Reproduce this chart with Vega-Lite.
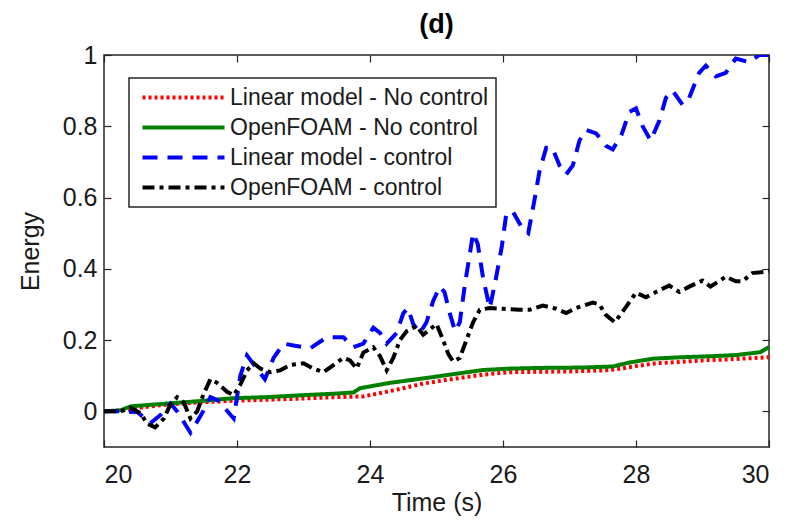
{
  "$schema": "https://vega.github.io/schema/vega-lite/v6.json",
  "width": 665,
  "height": 392,
  "autosize": "none",
  "padding": {"left": 104, "top": 55, "right": 23, "bottom": 73},
  "background": "white",
  "title": {"text": "(d)", "fontSize": 27, "fontWeight": "bold", "font": "Liberation Sans", "color": "#000000", "anchor": "middle", "baseline": "alphabetic", "offset": -17},
  "datasets": {
    "curves": [
      {"s": "Linear model - No control", "t": 20.0, "e": 0},
      {"s": "Linear model - No control", "t": 20.3, "e": 0.003},
      {"s": "Linear model - No control", "t": 20.6, "e": 0.012},
      {"s": "Linear model - No control", "t": 21.0, "e": 0.02},
      {"s": "Linear model - No control", "t": 21.5, "e": 0.026},
      {"s": "Linear model - No control", "t": 22.0, "e": 0.03},
      {"s": "Linear model - No control", "t": 22.5, "e": 0.033},
      {"s": "Linear model - No control", "t": 23.0, "e": 0.036},
      {"s": "Linear model - No control", "t": 23.5, "e": 0.04},
      {"s": "Linear model - No control", "t": 23.9, "e": 0.042},
      {"s": "Linear model - No control", "t": 24.2, "e": 0.053},
      {"s": "Linear model - No control", "t": 24.5, "e": 0.065},
      {"s": "Linear model - No control", "t": 24.8, "e": 0.078},
      {"s": "Linear model - No control", "t": 25.1, "e": 0.087},
      {"s": "Linear model - No control", "t": 25.4, "e": 0.095},
      {"s": "Linear model - No control", "t": 25.7, "e": 0.103},
      {"s": "Linear model - No control", "t": 26.1, "e": 0.11},
      {"s": "Linear model - No control", "t": 26.5, "e": 0.111},
      {"s": "Linear model - No control", "t": 27.0, "e": 0.112},
      {"s": "Linear model - No control", "t": 27.5, "e": 0.115},
      {"s": "Linear model - No control", "t": 27.7, "e": 0.118},
      {"s": "Linear model - No control", "t": 28.0, "e": 0.127},
      {"s": "Linear model - No control", "t": 28.3, "e": 0.135},
      {"s": "Linear model - No control", "t": 28.6, "e": 0.138},
      {"s": "Linear model - No control", "t": 29.0, "e": 0.143},
      {"s": "Linear model - No control", "t": 29.4, "e": 0.146},
      {"s": "Linear model - No control", "t": 29.7, "e": 0.149},
      {"s": "Linear model - No control", "t": 30.0, "e": 0.152},

      {"s": "OpenFOAM - No control", "t": 20.0, "e": 0},
      {"s": "OpenFOAM - No control", "t": 20.25, "e": 0.003},
      {"s": "OpenFOAM - No control", "t": 20.4, "e": 0.014},
      {"s": "OpenFOAM - No control", "t": 20.95, "e": 0.022},
      {"s": "OpenFOAM - No control", "t": 21.45, "e": 0.029},
      {"s": "OpenFOAM - No control", "t": 21.95, "e": 0.037},
      {"s": "OpenFOAM - No control", "t": 22.45, "e": 0.04},
      {"s": "OpenFOAM - No control", "t": 22.95, "e": 0.045},
      {"s": "OpenFOAM - No control", "t": 23.5, "e": 0.05},
      {"s": "OpenFOAM - No control", "t": 23.75, "e": 0.053},
      {"s": "OpenFOAM - No control", "t": 23.85, "e": 0.065},
      {"s": "OpenFOAM - No control", "t": 24.3, "e": 0.08},
      {"s": "OpenFOAM - No control", "t": 24.9, "e": 0.095},
      {"s": "OpenFOAM - No control", "t": 25.35, "e": 0.107},
      {"s": "OpenFOAM - No control", "t": 25.7, "e": 0.116},
      {"s": "OpenFOAM - No control", "t": 26.1, "e": 0.12},
      {"s": "OpenFOAM - No control", "t": 26.6, "e": 0.122},
      {"s": "OpenFOAM - No control", "t": 27.2, "e": 0.123},
      {"s": "OpenFOAM - No control", "t": 27.65, "e": 0.126},
      {"s": "OpenFOAM - No control", "t": 27.9, "e": 0.137},
      {"s": "OpenFOAM - No control", "t": 28.26, "e": 0.148},
      {"s": "OpenFOAM - No control", "t": 28.7, "e": 0.152},
      {"s": "OpenFOAM - No control", "t": 29.16, "e": 0.155},
      {"s": "OpenFOAM - No control", "t": 29.5, "e": 0.158},
      {"s": "OpenFOAM - No control", "t": 29.87, "e": 0.166},
      {"s": "OpenFOAM - No control", "t": 30.0, "e": 0.18},

      {"s": "Linear model - control", "t": 20.0, "e": 0},
      {"s": "Linear model - control", "t": 20.3, "e": 0},
      {"s": "Linear model - control", "t": 20.5, "e": -0.002},
      {"s": "Linear model - control", "t": 20.7, "e": -0.033},
      {"s": "Linear model - control", "t": 20.85, "e": -0.01},
      {"s": "Linear model - control", "t": 21.0, "e": 0.022},
      {"s": "Linear model - control", "t": 21.1, "e": 0.0},
      {"s": "Linear model - control", "t": 21.3, "e": -0.06},
      {"s": "Linear model - control", "t": 21.47, "e": -0.007},
      {"s": "Linear model - control", "t": 21.6, "e": 0.04},
      {"s": "Linear model - control", "t": 21.72, "e": 0.03},
      {"s": "Linear model - control", "t": 21.95, "e": -0.02},
      {"s": "Linear model - control", "t": 22.05, "e": 0.1},
      {"s": "Linear model - control", "t": 22.15, "e": 0.157},
      {"s": "Linear model - control", "t": 22.3, "e": 0.12},
      {"s": "Linear model - control", "t": 22.42, "e": 0.09},
      {"s": "Linear model - control", "t": 22.55, "e": 0.15},
      {"s": "Linear model - control", "t": 22.7, "e": 0.19},
      {"s": "Linear model - control", "t": 22.85, "e": 0.185},
      {"s": "Linear model - control", "t": 23.1, "e": 0.177},
      {"s": "Linear model - control", "t": 23.35, "e": 0.208},
      {"s": "Linear model - control", "t": 23.6, "e": 0.208},
      {"s": "Linear model - control", "t": 23.75, "e": 0.18},
      {"s": "Linear model - control", "t": 23.9, "e": 0.19},
      {"s": "Linear model - control", "t": 24.05, "e": 0.235},
      {"s": "Linear model - control", "t": 24.15, "e": 0.22},
      {"s": "Linear model - control", "t": 24.25, "e": 0.19},
      {"s": "Linear model - control", "t": 24.4, "e": 0.22},
      {"s": "Linear model - control", "t": 24.5, "e": 0.275},
      {"s": "Linear model - control", "t": 24.57, "e": 0.29},
      {"s": "Linear model - control", "t": 24.65, "e": 0.245},
      {"s": "Linear model - control", "t": 24.75, "e": 0.22},
      {"s": "Linear model - control", "t": 24.85, "e": 0.25},
      {"s": "Linear model - control", "t": 24.95, "e": 0.31},
      {"s": "Linear model - control", "t": 25.05, "e": 0.35},
      {"s": "Linear model - control", "t": 25.12, "e": 0.335},
      {"s": "Linear model - control", "t": 25.2, "e": 0.275},
      {"s": "Linear model - control", "t": 25.28, "e": 0.225},
      {"s": "Linear model - control", "t": 25.35, "e": 0.25},
      {"s": "Linear model - control", "t": 25.43, "e": 0.36},
      {"s": "Linear model - control", "t": 25.5, "e": 0.44},
      {"s": "Linear model - control", "t": 25.55, "e": 0.5},
      {"s": "Linear model - control", "t": 25.62, "e": 0.47},
      {"s": "Linear model - control", "t": 25.7, "e": 0.375},
      {"s": "Linear model - control", "t": 25.8, "e": 0.29},
      {"s": "Linear model - control", "t": 25.88, "e": 0.36},
      {"s": "Linear model - control", "t": 25.98, "e": 0.46},
      {"s": "Linear model - control", "t": 26.05, "e": 0.555},
      {"s": "Linear model - control", "t": 26.15, "e": 0.56},
      {"s": "Linear model - control", "t": 26.3, "e": 0.51},
      {"s": "Linear model - control", "t": 26.38, "e": 0.5},
      {"s": "Linear model - control", "t": 26.47, "e": 0.59},
      {"s": "Linear model - control", "t": 26.55, "e": 0.675},
      {"s": "Linear model - control", "t": 26.65, "e": 0.74},
      {"s": "Linear model - control", "t": 26.74, "e": 0.74},
      {"s": "Linear model - control", "t": 26.85, "e": 0.69},
      {"s": "Linear model - control", "t": 26.95, "e": 0.665},
      {"s": "Linear model - control", "t": 27.05, "e": 0.69},
      {"s": "Linear model - control", "t": 27.15, "e": 0.76},
      {"s": "Linear model - control", "t": 27.25, "e": 0.79},
      {"s": "Linear model - control", "t": 27.4, "e": 0.78},
      {"s": "Linear model - control", "t": 27.55, "e": 0.745},
      {"s": "Linear model - control", "t": 27.65, "e": 0.735},
      {"s": "Linear model - control", "t": 27.78, "e": 0.775},
      {"s": "Linear model - control", "t": 27.9, "e": 0.84},
      {"s": "Linear model - control", "t": 28.0, "e": 0.85},
      {"s": "Linear model - control", "t": 28.1, "e": 0.8},
      {"s": "Linear model - control", "t": 28.22, "e": 0.76},
      {"s": "Linear model - control", "t": 28.35, "e": 0.815},
      {"s": "Linear model - control", "t": 28.45, "e": 0.88},
      {"s": "Linear model - control", "t": 28.55, "e": 0.9},
      {"s": "Linear model - control", "t": 28.7, "e": 0.86},
      {"s": "Linear model - control", "t": 28.8, "e": 0.88},
      {"s": "Linear model - control", "t": 28.95, "e": 0.95},
      {"s": "Linear model - control", "t": 29.05, "e": 0.97},
      {"s": "Linear model - control", "t": 29.2, "e": 0.94},
      {"s": "Linear model - control", "t": 29.35, "e": 0.95},
      {"s": "Linear model - control", "t": 29.5, "e": 0.99},
      {"s": "Linear model - control", "t": 29.7, "e": 0.98},
      {"s": "Linear model - control", "t": 29.85, "e": 1.0},
      {"s": "Linear model - control", "t": 30.0, "e": 1.0},

      {"s": "OpenFOAM - control", "t": 20.0, "e": 0},
      {"s": "OpenFOAM - control", "t": 20.25, "e": 0.0},
      {"s": "OpenFOAM - control", "t": 20.4, "e": 0.01},
      {"s": "OpenFOAM - control", "t": 20.55, "e": -0.005},
      {"s": "OpenFOAM - control", "t": 20.65, "e": -0.035},
      {"s": "OpenFOAM - control", "t": 20.77, "e": -0.045},
      {"s": "OpenFOAM - control", "t": 20.9, "e": -0.02},
      {"s": "OpenFOAM - control", "t": 21.0, "e": 0.02},
      {"s": "OpenFOAM - control", "t": 21.1, "e": 0.04},
      {"s": "OpenFOAM - control", "t": 21.2, "e": 0.025},
      {"s": "OpenFOAM - control", "t": 21.3, "e": -0.02},
      {"s": "OpenFOAM - control", "t": 21.4, "e": 0.0},
      {"s": "OpenFOAM - control", "t": 21.5, "e": 0.05},
      {"s": "OpenFOAM - control", "t": 21.6, "e": 0.09},
      {"s": "OpenFOAM - control", "t": 21.7, "e": 0.08},
      {"s": "OpenFOAM - control", "t": 21.85, "e": 0.055},
      {"s": "OpenFOAM - control", "t": 21.95, "e": 0.045},
      {"s": "OpenFOAM - control", "t": 22.05, "e": 0.075},
      {"s": "OpenFOAM - control", "t": 22.15, "e": 0.115},
      {"s": "OpenFOAM - control", "t": 22.25, "e": 0.135},
      {"s": "OpenFOAM - control", "t": 22.35, "e": 0.12},
      {"s": "OpenFOAM - control", "t": 22.5, "e": 0.11},
      {"s": "OpenFOAM - control", "t": 22.65, "e": 0.115},
      {"s": "OpenFOAM - control", "t": 22.8, "e": 0.13},
      {"s": "OpenFOAM - control", "t": 23.0, "e": 0.135},
      {"s": "OpenFOAM - control", "t": 23.15, "e": 0.12},
      {"s": "OpenFOAM - control", "t": 23.3, "e": 0.11},
      {"s": "OpenFOAM - control", "t": 23.45, "e": 0.13},
      {"s": "OpenFOAM - control", "t": 23.6, "e": 0.15},
      {"s": "OpenFOAM - control", "t": 23.7, "e": 0.143},
      {"s": "OpenFOAM - control", "t": 23.8, "e": 0.12},
      {"s": "OpenFOAM - control", "t": 23.9, "e": 0.165},
      {"s": "OpenFOAM - control", "t": 24.05, "e": 0.18},
      {"s": "OpenFOAM - control", "t": 24.15, "e": 0.155},
      {"s": "OpenFOAM - control", "t": 24.25, "e": 0.115},
      {"s": "OpenFOAM - control", "t": 24.35, "e": 0.15},
      {"s": "OpenFOAM - control", "t": 24.45, "e": 0.2},
      {"s": "OpenFOAM - control", "t": 24.55, "e": 0.225},
      {"s": "OpenFOAM - control", "t": 24.7, "e": 0.24},
      {"s": "OpenFOAM - control", "t": 24.8, "e": 0.215},
      {"s": "OpenFOAM - control", "t": 24.9, "e": 0.23},
      {"s": "OpenFOAM - control", "t": 25.0, "e": 0.245},
      {"s": "OpenFOAM - control", "t": 25.1, "e": 0.2},
      {"s": "OpenFOAM - control", "t": 25.18, "e": 0.16},
      {"s": "OpenFOAM - control", "t": 25.25, "e": 0.14},
      {"s": "OpenFOAM - control", "t": 25.35, "e": 0.15},
      {"s": "OpenFOAM - control", "t": 25.45, "e": 0.2},
      {"s": "OpenFOAM - control", "t": 25.55, "e": 0.25},
      {"s": "OpenFOAM - control", "t": 25.65, "e": 0.285},
      {"s": "OpenFOAM - control", "t": 25.8, "e": 0.29},
      {"s": "OpenFOAM - control", "t": 26.0, "e": 0.288},
      {"s": "OpenFOAM - control", "t": 26.25, "e": 0.285},
      {"s": "OpenFOAM - control", "t": 26.4, "e": 0.285},
      {"s": "OpenFOAM - control", "t": 26.6, "e": 0.297},
      {"s": "OpenFOAM - control", "t": 26.8, "e": 0.288},
      {"s": "OpenFOAM - control", "t": 26.95, "e": 0.276},
      {"s": "OpenFOAM - control", "t": 27.1, "e": 0.29},
      {"s": "OpenFOAM - control", "t": 27.35, "e": 0.305},
      {"s": "OpenFOAM - control", "t": 27.45, "e": 0.3},
      {"s": "OpenFOAM - control", "t": 27.55, "e": 0.27},
      {"s": "OpenFOAM - control", "t": 27.68, "e": 0.25},
      {"s": "OpenFOAM - control", "t": 27.8, "e": 0.28},
      {"s": "OpenFOAM - control", "t": 28.0, "e": 0.333},
      {"s": "OpenFOAM - control", "t": 28.15, "e": 0.32},
      {"s": "OpenFOAM - control", "t": 28.3, "e": 0.335},
      {"s": "OpenFOAM - control", "t": 28.5, "e": 0.353},
      {"s": "OpenFOAM - control", "t": 28.65, "e": 0.335},
      {"s": "OpenFOAM - control", "t": 28.8, "e": 0.35},
      {"s": "OpenFOAM - control", "t": 29.0, "e": 0.367},
      {"s": "OpenFOAM - control", "t": 29.12, "e": 0.35},
      {"s": "OpenFOAM - control", "t": 29.35, "e": 0.378},
      {"s": "OpenFOAM - control", "t": 29.5, "e": 0.365},
      {"s": "OpenFOAM - control", "t": 29.6, "e": 0.365},
      {"s": "OpenFOAM - control", "t": 29.75, "e": 0.388},
      {"s": "OpenFOAM - control", "t": 30.0, "e": 0.393}
    ]
  },
  "data": {"name": "curves"},
  "layer": [
    {
      "mark": {"type": "line", "strokeWidth": 4, "clip": true},
      "encoding": {
        "x": {
          "field": "t", "type": "quantitative",
          "scale": {"domain": [20, 30], "nice": false, "zero": false},
          "axis": {"orient": "bottom", "values": [20, 22, 24, 26, 28, 30], "title": "Time (s)", "tickSize": -7, "labelPadding": 22, "titlePadding": 3}
        },
        "y": {
          "field": "e", "type": "quantitative",
          "scale": {"domain": [-0.1, 1], "nice": false, "zero": false},
          "axis": {"orient": "left", "values": [0, 0.2, 0.4, 0.6, 0.8, 1], "format": "~g", "title": "Energy", "tickSize": -7, "labelPadding": 14, "titlePadding": 19}
        },
        "color": {
          "field": "s", "type": "nominal",
          "scale": {"domain": ["Linear model - No control", "OpenFOAM - No control", "Linear model - control", "OpenFOAM - control"], "range": ["#ff0000", "#008000", "#0000ff", "#000000"]},
          "legend": {"title": null, "labelExpr": "datum.label + '\u2003\u2003'"}
        },
        "strokeDash": {
          "field": "s", "type": "nominal",
          "scale": {"domain": ["Linear model - No control", "OpenFOAM - No control", "Linear model - control", "OpenFOAM - control"], "range": [[3, 3], [1, 0], [15, 10], [12, 5, 4, 5]]},
          "legend": {"title": null, "labelExpr": "datum.label + '\u2003\u2003'"}
        }
      }
    },
    {
      "mark": {"type": "line", "opacity": 0},
      "encoding": {
        "x": {"field": "t", "type": "quantitative", "axis": {"orient": "top", "values": [20, 22, 24, 26, 28, 30], "labels": false, "title": null, "tickSize": -7}},
        "y": {"field": "e", "type": "quantitative", "axis": {"orient": "right", "values": [0, 0.2, 0.4, 0.6, 0.8, 1], "labels": false, "title": null, "tickSize": -7}}
      }
    }
  ],
  "resolve": {"axis": {"x": "independent", "y": "independent"}},
  "config": {
    "view": {"stroke": "#262626", "strokeWidth": 1.5},
    "axis": {
      "grid": false,
      "domain": false,
      "tickColor": "#262626",
      "tickWidth": 1.2,
      "labelFont": "Liberation Sans",
      "labelFontSize": 25,
      "labelColor": "#1a1a1a",
      "titleFont": "Liberation Sans",
      "titleFontSize": 25,
      "titleFontWeight": "normal",
      "titleColor": "#1a1a1a"
    },
    "legend": {
      "orient": "none",
      "legendX": 25,
      "legendY": 23,
      "symbolType": "M-4,0L4,0",
      "symbolSize": 420,
      "symbolStrokeWidth": 4,
      "symbolOffset": 35,
      "labelOffset": 34,
      "labelFont": "Liberation Sans",
      "labelFontSize": 23,
      "labelColor": "#1a1a1a",
      "labelLimit": 0,
      "rowPadding": 5,
      "padding": 7,
      "strokeColor": "#262626",
      "fillColor": "#ffffff",
      "strokeWidth": 1.5
    }
  }
}
